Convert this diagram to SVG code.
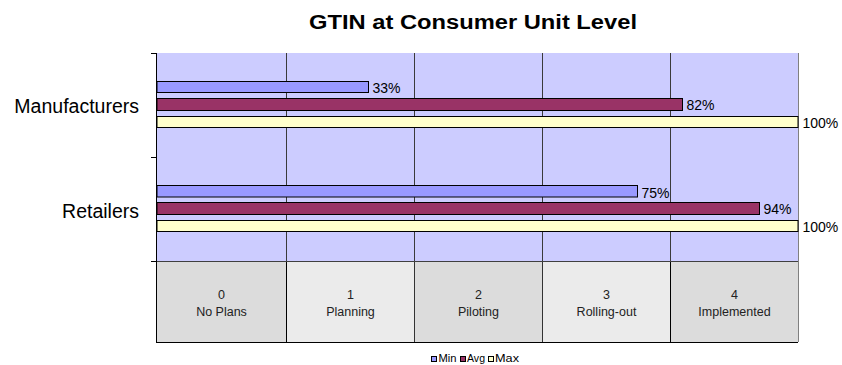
<svg xmlns="http://www.w3.org/2000/svg" width="842" height="365" viewBox="0 0 842 365">
<style>
text{font-family:"Liberation Sans",Arial,sans-serif;fill:#000}
.title{font-size:19.5px;font-weight:bold}
.cat{font-size:19.5px;text-anchor:end}
.val{font-size:14px}
.tbl{font-size:12.5px;text-anchor:middle;fill:#222}
.leg{font-size:10.5px}
.grid{stroke:#3a3a3a;stroke-width:1}
.bar{stroke:#000;stroke-width:1}
.min{fill:#9999FF}
.avg{fill:#993366}
.max{fill:#FFFFCC}
.cellD{fill:#DCDCDC}
.cellL{fill:#EBEBEB}
</style>
<rect width="842" height="365" fill="#fff"/>
<text class="title" x="309" y="29" textLength="328" lengthAdjust="spacingAndGlyphs">GTIN at Consumer Unit Level</text>
<g id="plot">
<rect x="157" y="53" width="641" height="208" fill="#CCCCFF"/>
<line class="grid" x1="286.5" y1="53" x2="286.5" y2="261"/>
<line class="grid" x1="414.5" y1="53" x2="414.5" y2="261"/>
<line class="grid" x1="542.5" y1="53" x2="542.5" y2="261"/>
<line class="grid" x1="670.5" y1="53" x2="670.5" y2="261"/>
<line x1="798.5" y1="53" x2="798.5" y2="261" stroke="#808080"/>
</g>
<g id="table">
<rect class="cellD" x="157" y="261" width="129.5" height="81"/>
<rect class="cellL" x="286.5" y="261" width="128" height="81"/>
<rect class="cellD" x="414.5" y="261" width="128" height="81"/>
<rect class="cellL" x="542.5" y="261" width="128" height="81"/>
<rect class="cellD" x="670.5" y="261" width="128" height="81"/>
<line x1="157" y1="342.5" x2="798" y2="342.5" stroke="#000"/>
<line x1="286.5" y1="261" x2="286.5" y2="342" stroke="#000"/>
<line x1="414.5" y1="261" x2="414.5" y2="342" stroke="#333"/>
<line x1="542.5" y1="261" x2="542.5" y2="342" stroke="#333"/>
<line x1="670.5" y1="261" x2="670.5" y2="342" stroke="#000"/>
<line x1="798.5" y1="261" x2="798.5" y2="342" stroke="#808080"/>
<text class="tbl" x="221.5" y="299">0</text><text class="tbl" x="221.5" y="316">No Plans</text>
<text class="tbl" x="350.5" y="299">1</text><text class="tbl" x="350.5" y="316">Planning</text>
<text class="tbl" x="478.5" y="299">2</text><text class="tbl" x="478.5" y="316">Piloting</text>
<text class="tbl" x="606.5" y="299">3</text><text class="tbl" x="606.5" y="316">Rolling-out</text>
<text class="tbl" x="734.5" y="299">4</text><text class="tbl" x="734.5" y="316">Implemented</text>
</g>
<g id="axes">
<line x1="157" y1="261.5" x2="798" y2="261.5" stroke="#404040"/>
<line x1="156.5" y1="53" x2="156.5" y2="343" stroke="#000"/>
<line x1="151" y1="53.5" x2="157" y2="53.5" stroke="#000"/>
<line x1="151" y1="157.5" x2="157" y2="157.5" stroke="#000"/>
<line x1="151" y1="261.5" x2="157" y2="261.5" stroke="#000"/>
</g>
<g id="manufacturers">
<text class="cat" x="139" y="112.5">Manufacturers</text>
<rect class="bar min" x="157" y="81.5" width="211.5" height="11"/>
<rect class="bar avg" x="157" y="98.5" width="525.5" height="12"/>
<rect class="bar max" x="157" y="116.5" width="641" height="11"/>
<text class="val" x="372.5" y="92.5">33%</text>
<text class="val" x="686.5" y="109.5">82%</text>
<text class="val" x="802.5" y="127.5">100%</text>
</g>
<g id="retailers">
<text class="cat" x="139" y="217.5">Retailers</text>
<rect class="bar min" x="157" y="185.5" width="480.5" height="11.5"/>
<rect class="bar avg" x="157" y="202.5" width="602.5" height="12"/>
<rect class="bar max" x="157" y="220.5" width="641" height="11"/>
<text class="val" x="641.5" y="197.5">75%</text>
<text class="val" x="763.5" y="214">94%</text>
<text class="val" x="802.5" y="231.5">100%</text>
</g>
<g id="legend">
<rect class="bar min" x="431.5" y="356.5" width="5" height="5"/>
<text class="leg" x="438.5" y="362" textLength="18" lengthAdjust="spacingAndGlyphs">Min</text>
<rect class="bar avg" x="460.5" y="356.5" width="5" height="5"/>
<text class="leg" x="467" y="362" textLength="18" lengthAdjust="spacingAndGlyphs">Avg</text>
<rect class="bar max" x="488.5" y="356.5" width="5" height="5"/>
<text class="leg" x="495" y="362" textLength="24" lengthAdjust="spacingAndGlyphs">Max</text>
</g>
</svg>
